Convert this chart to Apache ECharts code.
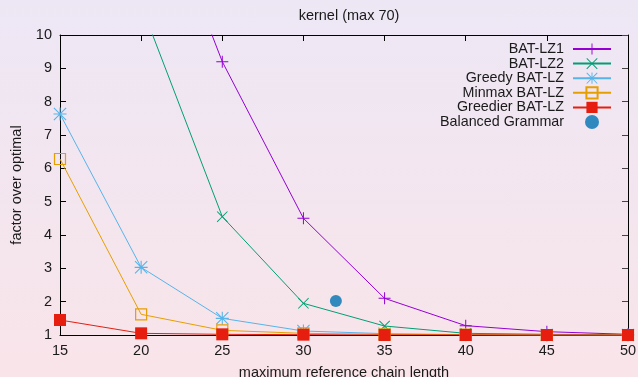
<!DOCTYPE html>
<html>
<head>
<meta charset="utf-8">
<script src="https://cdn.jsdelivr.net/npm/echarts@6/dist/echarts.min.js"></script>
<style>
html, body { margin: 0; padding: 0; }
body { width: 638px; height: 377px; background: linear-gradient(to bottom, #ede7f5 0%, #f9e4e9 100%); overflow: hidden; }
#chart { width: 638px; height: 377px; }
</style>
</head>
<body>
<div id="chart"></div>
<script>
const xValues = [15, 20, 25, 30, 35, 40, 45, 50];
const batLZ1 = [null, 15.5, 9.2, 4.5, 2.1, 1.28, 1.1, 1.02];
const batLZ2 = [null, 10.9, 4.55, 1.95, 1.27, 1.05, 1.02, 1.0];
const greedyBatLZ = [7.63, 3.03, 1.5, 1.12, 1.04, 1.01, 1.0, 1.0];
const minmaxBatLZ = [6.28, 1.62, 1.14, 1.05, 1.02, 1.01, 1.0, 1.0];
const greedierBatLZ = [1.45, 1.05, 1.02, 1.01, 1.0, 1.0, 1.0, 1.0];
const balancedX = [32];
const balancedY = [2.02];
const xTicks = [15, 20, 25, 30, 35, 40, 45, 50];
const yTicks = [1, 2, 3, 4, 5, 6, 7, 8, 9, 10];

const FONT = '"Liberation Sans", Arial, Helvetica, sans-serif';
const FS = 14.5;
const pair = (ys) => xValues.map((x, i) => [x, ys[i]]);

const PLUS = 'path://M5.5,0H6.5V5.5H12V6.5H6.5V12H5.5V6.5H0V5.5H5.5Z';
const CROSS = 'path://M0,0.7L0.7,0L6,5.3L11.3,0L12,0.7L6.7,6L12,11.3L11.3,12L6,6.7L0.7,12L0,11.3L5.3,6Z';
const STAR = 'path://M5.5,0H6.5V5.5H12V6.5H6.5V12H5.5V6.5H0V5.5H5.5Z M0,0.7L0.7,0L6,5.3L11.3,0L12,0.7L6.7,6L12,11.3L11.3,12L6,6.7L0.7,12L0,11.3L5.3,6Z';

function lineSeries(name, ys, color, symbol, size, extraItem) {
  return {
    name: name,
    type: 'line',
    data: pair(ys),
    symbol: symbol,
    symbolSize: size,
    lineStyle: { color: color, width: 1 },
    itemStyle: Object.assign({ color: color }, extraItem || {}),
    clip: true,
    emphasis: { disabled: true },
    animation: false
  };
}

const chart = echarts.init(document.getElementById('chart'), null, { renderer: 'canvas' });
chart.setOption({
  backgroundColor: 'transparent',
  animation: false,
  title: {
    text: 'kernel (max 70)',
    left: 344, top: 3, textAlign: 'center',
    textStyle: { fontFamily: FONT, fontSize: FS, fontWeight: 'normal', color: '#1a1a1a' }
  },
  grid: { left: 60, right: 10, top: 35, bottom: 42, containLabel: false, outerBoundsMode: 'none' },
  legend: {
    orient: 'vertical',
    right: 21, top: 37,
    align: 'right',
    itemWidth: 38, itemHeight: 14, itemGap: 0.6,
    textStyle: { fontFamily: FONT, fontSize: 14.3, lineHeight: 14, color: '#1a1a1a', padding: [0, 4, 0, 0] },
    data: ['BAT-LZ1', 'BAT-LZ2', 'Greedy BAT-LZ', 'Minmax BAT-LZ', 'Greedier BAT-LZ', 'Balanced Grammar']
  },
  xAxis: [{
    type: 'value', min: 15, max: 50, interval: 5,
    name: 'maximum reference chain length', nameLocation: 'middle', nameGap: 30,
    nameTextStyle: { fontFamily: FONT, fontSize: FS, color: '#1a1a1a' },
    axisLine: { show: true, lineStyle: { color: '#000', width: 1 } },
    axisTick: { show: true, inside: true, length: 6, lineStyle: { color: '#000' } },
    axisLabel: { fontFamily: FONT, fontSize: FS, color: '#1a1a1a', margin: 8,
      formatter: (v) => xTicks.includes(v) ? String(v) : '' },
    splitLine: { show: false }
  }, {
    type: 'value', min: 15, max: 50, interval: 5, position: 'top',
    axisLine: { show: true, lineStyle: { color: '#000', width: 1 } },
    axisTick: { show: true, inside: true, length: 6, lineStyle: { color: '#000' } },
    axisLabel: { show: false }, splitLine: { show: false }
  }],
  yAxis: [{
    type: 'value', min: 1, max: 10, interval: 1,
    name: 'factor over optimal', nameLocation: 'middle', nameGap: 36, nameRotate: 90,
    nameTextStyle: { fontFamily: FONT, fontSize: FS, color: '#1a1a1a' },
    axisLine: { show: true, lineStyle: { color: '#000', width: 1 } },
    axisTick: { show: true, inside: true, length: 6, lineStyle: { color: '#000' } },
    axisLabel: { fontFamily: FONT, fontSize: FS, color: '#1a1a1a', margin: 8,
      formatter: (v) => yTicks.includes(v) ? String(v) : '' },
    splitLine: { show: false }
  }, {
    type: 'value', min: 1, max: 10, interval: 1, position: 'right',
    axisLine: { show: true, lineStyle: { color: '#000', width: 1 } },
    axisTick: { show: true, inside: true, length: 6, lineStyle: { color: '#444' } },
    axisLabel: { show: false }, splitLine: { show: false }
  }],
  series: [
    lineSeries('BAT-LZ1', batLZ1, '#9400d3', PLUS, 12),
    lineSeries('BAT-LZ2', batLZ2, '#009e73', CROSS, 11),
    lineSeries('Greedy BAT-LZ', greedyBatLZ, '#56b4e9', STAR, 13),
    lineSeries('Minmax BAT-LZ', minmaxBatLZ, '#e69f00', 'rect', 11,
      { color: 'rgba(0,0,0,0)', borderColor: '#e69f00', borderWidth: 1.2 }),
    lineSeries('Greedier BAT-LZ', greedierBatLZ, '#e51e10', 'rect', 12),
    {
      name: 'Balanced Grammar', type: 'scatter',
      data: balancedX.map((x, i) => [x, balancedY[i]]),
      symbol: 'circle', symbolSize: 12, symbolKeepAspect: true,
      itemStyle: { color: '#0072b2' },
      emphasis: { disabled: true }, animation: false
    }
  ]
});
</script>
</body>
</html>
